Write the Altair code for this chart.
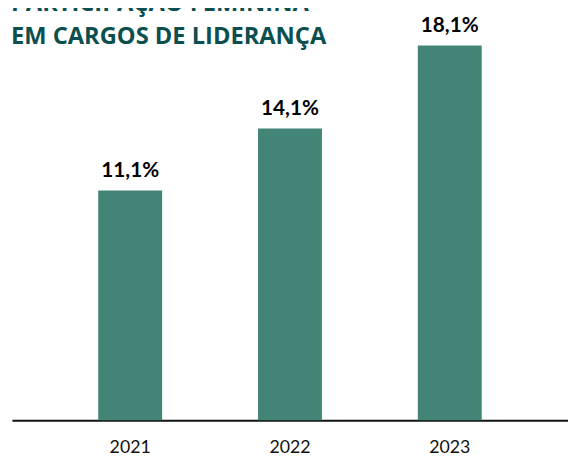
import altair as alt
import pandas as pd

years = ["2021", "2022", "2023"]
values = [11.1, 14.1, 18.1]
title_lines = ["PARTICIPAÇÃO FEMININA", "EM CARGOS DE LIDERANÇA"]

labels = [f"{v:.1f}".replace(".", ",") + "%" for v in values]
df = pd.DataFrame({"year": years, "value": values, "label": labels})

base = alt.Chart(df).encode(
    x=alt.X(
        "year:N",
        sort=years,
        scale=alt.Scale(paddingInner=0.6, paddingOuter=0.54),
        axis=alt.Axis(
            title=None,
            labelAngle=0,
            ticks=False,
            domainColor="#111111",
            domainWidth=2,
            labelFont="Lato",
            labelFontSize=18,
            labelColor="#111111",
            labelPadding=19,
        ),
    ),
    y=alt.Y("value:Q", scale=alt.Scale(domain=[0, 19], nice=False), axis=None),
)

bars = base.mark_bar(color="#428576")
text = base.mark_text(
    dy=-14, baseline="alphabetic", fontSize=21, fontWeight="bold", font="Lato", color="#000000"
).encode(text="label:N")

chart = (
    alt.layer(bars, text)
    .properties(
        width=564,
        height=399,
        autosize=alt.AutoSizeParams(type="none"),
        padding={"left": 4, "top": 16, "right": 0, "bottom": 34},
        title=alt.TitleParams(
            text=title_lines,
            anchor="start",
            frame="group",
            font="Open Sans",
            fontSize=24,
            fontWeight="bold",
            color="#0d4f4f",
            lineHeight=33,
            offset=0,
            dx=-1,
            dy=34,
        ),
    )
    .configure_view(stroke=None)
)

chart.save("out.html", embed_options={"renderer": "svg", "actions": False})
